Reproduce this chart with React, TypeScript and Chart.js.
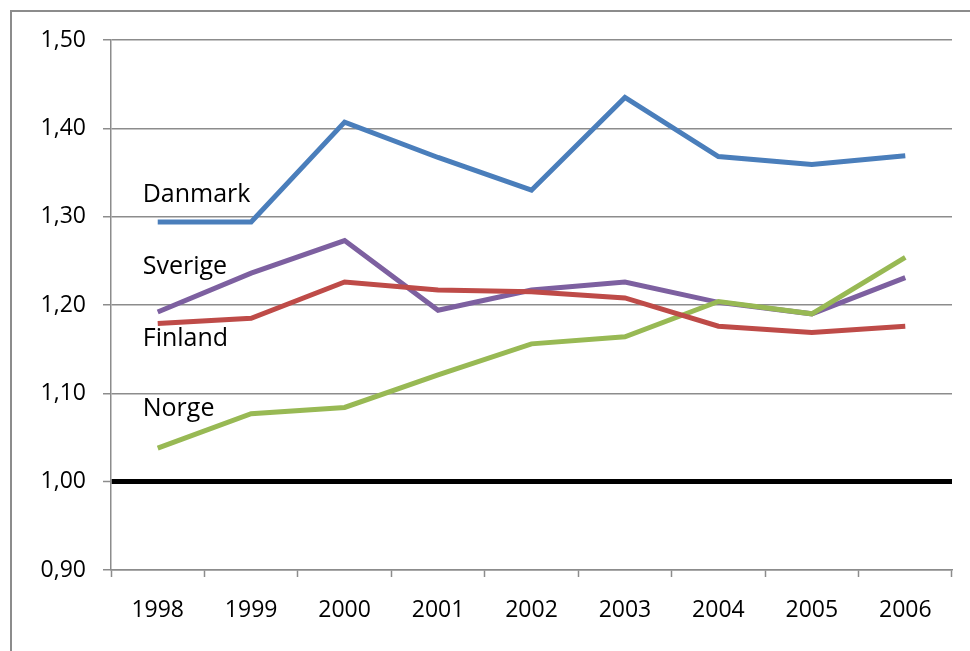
import React, { useEffect, useRef } from "react";
import { Chart, registerables } from "chart.js";

Chart.register(...registerables);

const years = ["1998", "1999", "2000", "2001", "2002", "2003", "2004", "2005", "2006"];
const danmark = [1.294, 1.294, 1.407, 1.367, 1.33, 1.435, 1.368, 1.359, 1.369];
const sverige = [1.192, 1.236, 1.273, 1.194, 1.217, 1.226, 1.203, 1.19, 1.231];
const finland = [1.179, 1.185, 1.226, 1.217, 1.215, 1.208, 1.176, 1.169, 1.176];
const norge = [1.038, 1.077, 1.084, 1.121, 1.156, 1.164, 1.204, 1.19, 1.254];
const seriesNames = ["Danmark", "Sverige", "Finland", "Norge"];
const labelValues = [1.325, 1.243, 1.162, 1.082];
const yMin = 0.9;
const yMax = 1.5;
const yStep = 0.1;
const refValue = 1.0;

const FONT = "'Open Sans', 'Noto Sans', sans-serif";
const GRID = "#8c8c8c";

const labelPlugin = {
  id: "seriesLabels",
  afterDatasetsDraw(chart: any) {
    const { ctx, scales } = chart;
    const x0 = scales.x.getPixelForValue(0) - 15;
    ctx.save();
    ctx.font = `25px ${FONT}`;
    ctx.fillStyle = "#000";
    ctx.textAlign = "left";
    ctx.textBaseline = "middle";
    seriesNames.forEach((n, i) => {
      ctx.fillText(n, x0, scales.y.getPixelForValue(labelValues[i]));
    });
    ctx.restore();
  },
};

const framePlugin = {
  id: "frame",
  beforeDraw(chart: any) {
    const { ctx, width, height } = chart;
    ctx.save();
    ctx.fillStyle = "#fff";
    ctx.fillRect(0, 0, width, height);
    ctx.strokeStyle = GRID;
    ctx.lineWidth = 2;
    ctx.beginPath();
    ctx.moveTo(11, height + 5);
    ctx.lineTo(11, 11);
    ctx.lineTo(width + 5, 11);
    ctx.stroke();
    ctx.restore();
  },
};

export default function App() {
  const ref = useRef<HTMLCanvasElement>(null);
  useEffect(() => {
    if (!ref.current) return;
    const mk = (label: string, data: number[], color: string) => ({
      label,
      data,
      borderColor: color,
      backgroundColor: color,
      borderWidth: 5,
      pointRadius: 0,
      tension: 0,
      fill: false,
    });
    const chart = new Chart(ref.current, {
      type: "line",
      data: {
        labels: years,
        datasets: [
          mk("Finland", finland, "#BE4B48"),
          mk("Norge", norge, "#98B954"),
          mk("Sverige", sverige, "#7D60A0"),
          mk("Danmark", danmark, "#4A7EBB"),
        ],
      },
      options: {
        responsive: false,
        animation: false,
        devicePixelRatio: 1,
        layout: { padding: { left: 0, top: 40, right: 18, bottom: 0 } },
        plugins: { legend: { display: false }, tooltip: { enabled: false } },
        scales: {
          x: {
            type: "category",
            offset: true,
            afterFit: (s: any) => {
              s.height = 81;
            },
            grid: {
              offset: true,
              drawOnChartArea: false,
              drawTicks: true,
              tickLength: 7,
              tickColor: GRID,
              tickWidth: 1.5,
              color: GRID,
            },
            border: { display: true, color: GRID, width: 1.5 },
            ticks: {
              color: "#000",
              font: { family: FONT, size: 23 },
              padding: 20,
              maxRotation: 0,
            },
          },
          y: {
            min: yMin,
            max: yMax,
            afterFit: (s: any) => {
              s.width = 111;
            },
            grid: {
              color: (c: any) => (c.tick && Math.abs(c.tick.value - refValue) < 1e-6 ? "#000" : GRID),
              lineWidth: (c: any) => (c.tick && Math.abs(c.tick.value - refValue) < 1e-6 ? 5 : 1.5),
              tickColor: GRID,
              tickWidth: 1.5,
              tickLength: 8,
            },
            border: { display: true, color: GRID, width: 1.5 },
            ticks: {
              stepSize: yStep,
              color: "#000",
              font: { family: FONT, size: 23 },
              padding: 17,
              callback: (v: any) => Number(v).toFixed(2).replace(".", ","),
            },
          },
        },
      },
      plugins: [framePlugin, labelPlugin],
    } as any);
    return () => chart.destroy();
  }, []);
  return (
    <div style={{ position: "absolute", left: 0, top: 0, width: 970, height: 651 }}>
      <canvas ref={ref} width={970} height={651} style={{ display: "block" }} />
    </div>
  );
}
